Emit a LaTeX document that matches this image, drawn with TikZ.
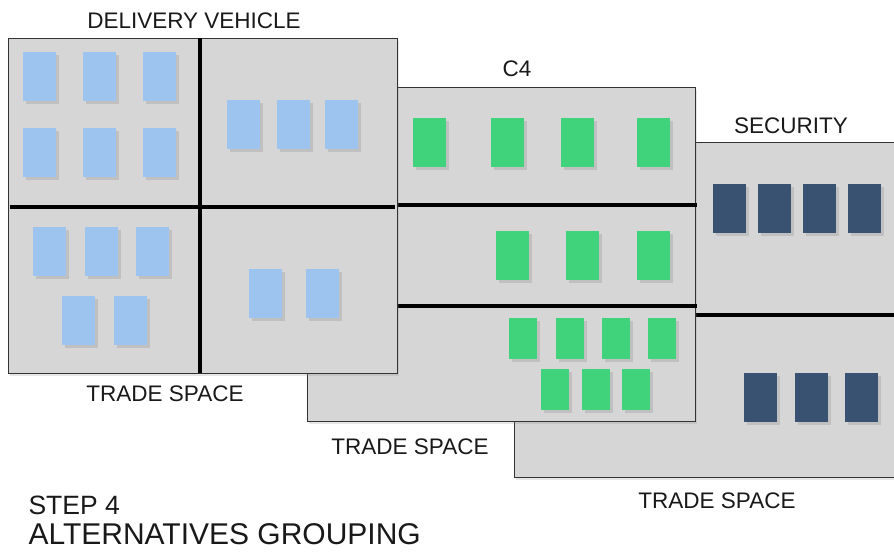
\documentclass[tikz,border=0pt]{standalone}
\usepackage{fontspec}
\setmainfont{Liberation Sans}
\usepackage{tikz}
\usetikzlibrary{shadows}

\definecolor{panelgray}{HTML}{D6D6D6}
\definecolor{dvblue}{HTML}{9DC3EF}
\definecolor{cgreen}{HTML}{40D37B}
\definecolor{secnavy}{HTML}{3A5272}

\tikzset{
  panel/.style={draw=black!80, line width=1pt, fill=panelgray,
    drop shadow={shadow xshift=2pt, shadow yshift=-3pt, opacity=0.2}},
  divider/.style={line width=4.8pt, black},
  tile/.style={anchor=north west, inner sep=0pt, minimum width=33pt, minimum height=49pt,
    drop shadow={shadow xshift=2.5pt, shadow yshift=-2.5pt, opacity=0.25}},
  bluetile/.style={tile, fill=dvblue},
  greentile/.style={tile, fill=cgreen},
  smalltile/.style={tile, fill=cgreen, minimum width=28pt, minimum height=41pt},
  navytile/.style={tile, fill=secnavy},
  label/.style={anchor=base, font=\fontsize{22.5}{27}\selectfont, text=black!90}
}

\begin{document}
\begin{tikzpicture}[x=1pt, y=-1pt]
    \useasboundingbox (0,0) rectangle (894,552);
    \clip (0,0) rectangle (894,552);

    % Security
    \path[panel] (514,142) rectangle (900,477);
    \draw[divider] (514,315) -- (900,315);
    \foreach \x [count=\i] in {713,758,803,848}
        \node[navytile] (secA\i) at (\x,184) {};
    \foreach \x [count=\i] in {744,795,845}
        \node[navytile] (secB\i) at (\x,373) {};
    \node[label] (sectitle) at (791,133) {SECURITY};
    \node[label] (secspace) at (717,508) {TRADE SPACE};

    % C4
    \path[panel] (307,87) rectangle (695,421);
    \draw[divider] (307,205) -- (697,205);
    \draw[divider] (307,306) -- (697,306);
    \foreach \x [count=\i] in {413,491,561,637}
        \node[greentile] (cA\i) at (\x,118) {};
    \foreach \x [count=\i] in {496,566,637}
        \node[greentile] (cB\i) at (\x,231) {};
    \foreach \x [count=\i] in {509,556,602,648}
        \node[smalltile] (cC\i) at (\x,318) {};
    \foreach \x [count=\i] in {541,582,622}
        \node[smalltile] (cD\i) at (\x,369) {};
    \node[label] (ctitle) at (517,76) {C4};
    \node[label] (cspace) at (410,454) {TRADE SPACE};

    % Delivery vehicle
    \path[panel] (8,38) rectangle (397,373);
    \draw[divider] (200,38) -- (200,373);
    \draw[divider] (10,207) -- (395,207);
    \foreach \x [count=\i] in {23,83,143} {
        \node[bluetile] (dvA\i) at (\x,52) {};
        \node[bluetile] (dvB\i) at (\x,128) {};
    }
    \foreach \x [count=\i] in {227,277,325}
        \node[bluetile] (dvC\i) at (\x,100) {};
    \foreach \x [count=\i] in {33,85,136}
        \node[bluetile] (dvD\i) at (\x,227) {};
    \foreach \x [count=\i] in {62,114}
        \node[bluetile] (dvE\i) at (\x,296) {};
    \foreach \x [count=\i] in {249,306}
        \node[bluetile] (dvF\i) at (\x,269) {};
    \node[label] (dvtitle) at (194,28) {DELIVERY VEHICLE};
    \node[label] (dvspace) at (165,401) {TRADE SPACE};

    % Step caption
    \node[label, anchor=base west, font=\fontsize{26.5}{30}\selectfont] (step) at (25,514) {STEP 4};
    \node[label, anchor=base west, font=\fontsize{30}{34}\selectfont] (stepname) at (25,544) {ALTERNATIVES GROUPING};
\end{tikzpicture}
\end{document}
